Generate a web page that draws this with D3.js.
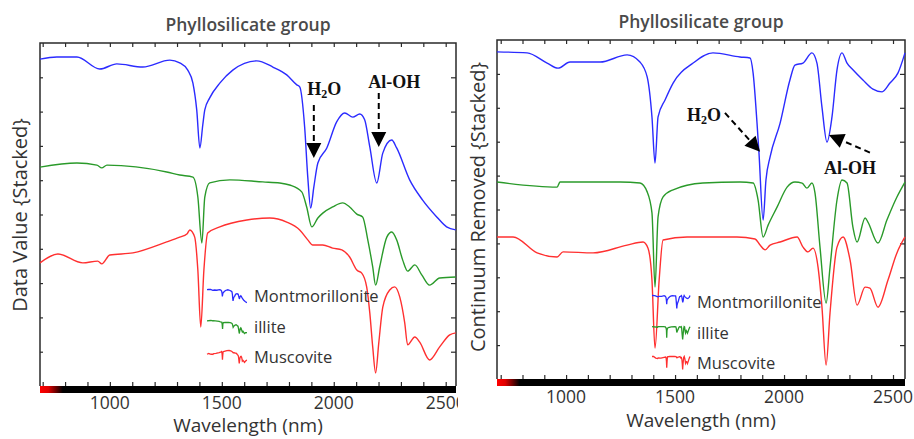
<!DOCTYPE html>
<html>
<head>
<meta charset="utf-8">
<script src="https://cdn.jsdelivr.net/npm/d3@7"></script>
<style>
    body { margin: 0; background: #fff; }
    text { font-family: "Open Sans", sans-serif; }
</style>
</head>
<body>
<div id="chart"></div>
<script>
// spectra, [wavelength nm, stacked value]
const leftMontmorillonite = [
    [688, 9.53], [763, 9.59], [853, 9.59], [955, 9.24], [1031, 9.39], [1147, 9.30], [1268, 9.50],
    [1312, 9.42], [1348, 9.21], [1371, 8.83], [1388, 8.05], [1402, 6.94], [1415, 7.61], [1424, 8.05],
    [1446, 8.40], [1491, 8.83], [1549, 9.21], [1656, 9.48], [1728, 9.30], [1790, 9.07], [1835, 8.78],
    [1848, 8.72], [1870, 7.55], [1884, 6.09], [1897, 5.19], [1911, 5.80], [1929, 6.50], [1969, 6.94],
    [2013, 7.70], [2049, 7.96], [2085, 7.84], [2116, 7.93], [2138, 7.76], [2161, 6.97], [2192, 5.92],
    [2219, 6.79], [2259, 7.17], [2281, 6.94], [2339, 6.01], [2397, 5.42], [2460, 4.93], [2504, 4.64],
    [2545, 4.55]
];
const leftIllite = [
    [688, 6.38], [853, 6.50], [942, 6.44], [964, 6.36], [987, 6.44], [1254, 6.24], [1312, 6.15],
    [1371, 6.09], [1393, 5.51], [1411, 4.17], [1424, 5.51], [1446, 5.92], [1536, 6.01], [1683, 5.95],
    [1759, 5.92], [1803, 5.86], [1857, 5.66], [1879, 5.22], [1902, 4.64], [1929, 4.90], [1951, 5.04],
    [1995, 5.22], [2040, 5.34], [2071, 5.22], [2103, 5.01], [2129, 4.93], [2152, 4.26], [2174, 3.47],
    [2187, 2.94], [2205, 3.47], [2237, 4.34], [2259, 4.49], [2281, 4.26], [2308, 3.67], [2330, 3.35],
    [2362, 3.53], [2393, 3.24], [2428, 2.94], [2473, 3.15], [2545, 3.18]
];
const leftMuscovite = [
    [688, 3.59], [768, 3.85], [879, 3.59], [946, 3.64], [964, 3.56], [1000, 3.82], [1103, 3.88],
    [1254, 4.20], [1312, 4.34], [1344, 4.43], [1357, 4.55], [1379, 4.34], [1393, 3.38], [1406, 1.72],
    [1420, 3.38], [1437, 4.46], [1491, 4.64], [1612, 4.84], [1714, 4.90], [1790, 4.78], [1848, 4.55],
    [1884, 4.26], [1906, 4.11], [1951, 4.11], [1995, 4.02], [2036, 3.97], [2071, 3.76], [2103, 3.38],
    [2125, 3.29], [2147, 2.89], [2161, 2.13], [2174, 1.14], [2187, 0.38], [2201, 1.25], [2219, 2.30],
    [2250, 2.80], [2272, 2.89], [2295, 2.59], [2317, 1.84], [2330, 1.20], [2362, 1.43], [2384, 1.28],
    [2428, 0.76], [2473, 1.14], [2518, 1.49], [2545, 1.55]
];

const rightMontmorillonite = [
    [683, 9.65], [821, 9.62], [913, 9.32], [963, 9.17], [1018, 9.35], [1156, 9.35], [1280, 9.56],
    [1339, 9.35], [1372, 8.91], [1394, 7.73], [1408, 6.37], [1422, 7.73], [1454, 8.23], [1491, 8.73],
    [1583, 9.32], [1674, 9.62], [1798, 9.50], [1844, 9.47], [1858, 9.03], [1876, 7.55], [1885, 6.67],
    [1904, 4.69], [1917, 5.87], [1936, 6.55], [1982, 7.55], [2027, 8.82], [2050, 9.26], [2087, 9.32],
    [2128, 9.62], [2151, 9.32], [2174, 8.02], [2197, 6.99], [2220, 7.73], [2243, 9.12], [2266, 9.62],
    [2289, 9.32], [2316, 9.12], [2362, 8.82], [2408, 8.55], [2450, 8.47], [2486, 8.73], [2523, 9.03],
    [2555, 9.62]
];
const rightIllite = [
    [683, 5.81], [959, 5.66], [972, 5.81], [1248, 5.81], [1339, 5.78], [1372, 5.52], [1394, 4.90],
    [1408, 2.71], [1422, 4.78], [1445, 5.37], [1491, 5.58], [1628, 5.78], [1798, 5.81], [1858, 5.78],
    [1881, 5.28], [1904, 4.19], [1927, 4.54], [1968, 5.07], [2014, 5.66], [2050, 5.81], [2083, 5.78],
    [2105, 5.63], [2128, 5.78], [2142, 5.49], [2165, 3.89], [2193, 2.24], [2211, 3.30], [2243, 5.28],
    [2266, 5.87], [2289, 5.78], [2316, 4.48], [2335, 4.04], [2372, 4.75], [2385, 4.63], [2431, 4.01],
    [2472, 4.69], [2518, 5.37], [2555, 5.81]
];
const rightMuscovite = [
    [683, 4.19], [757, 4.19], [867, 3.72], [959, 3.60], [986, 3.75], [1124, 3.72], [1280, 3.95],
    [1353, 4.04], [1376, 3.86], [1394, 2.92], [1408, 0.91], [1427, 2.92], [1445, 4.10], [1555, 4.19],
    [1784, 4.19], [1867, 4.13], [1890, 3.95], [1913, 3.81], [1936, 3.95], [1982, 4.04], [2060, 4.19],
    [2087, 3.89], [2110, 3.75], [2133, 3.86], [2156, 3.30], [2174, 2.12], [2193, 0.41], [2211, 1.95],
    [2243, 3.89], [2271, 4.19], [2303, 3.51], [2335, 2.18], [2372, 2.71], [2394, 2.68], [2431, 2.12],
    [2477, 2.92], [2518, 3.72], [2555, 4.19]
];

const seriesNames = ["Montmorillonite", "illite", "Muscovite"];
const seriesColors = ["#2b2bff", "#2a9a2a", "#ff3030"];
const majorTicks = [1000, 1500, 2000, 2500];
const minorTicks = [700, 800, 900, 1000, 1100, 1200, 1300, 1400, 1500, 1600, 1700, 1800, 1900, 2000, 2100, 2200, 2300, 2400, 2500];
const yTicks = [1, 2, 3, 4, 5, 6, 7, 8, 9];

const svg = d3.select("#chart").append("svg")
    .attr("width", 914)
    .attr("height", 439);

// red fade on the wavelength bar
let grad = svg.append("defs").append("linearGradient")
    .attr("id", "barGrad")
    .attr("x1", "0%").attr("x2", "100%");
grad.append("stop").attr("offset", "0%").attr("stop-color", "#ff0000");
grad.append("stop").attr("offset", "2%").attr("stop-color", "#e00000");
grad.append("stop").attr("offset", "5.5%").attr("stop-color", "#000");
grad.append("stop").attr("offset", "100%").attr("stop-color", "#000");

const panels = [
    {
        id: "left", clip: [0, 458], left: 40, right: 456, top: 43, bottom: 386,
        domain: [688, 2546], series: [leftMontmorillonite, leftIllite, leftMuscovite],
        title: "Phyllosilicate group", titleY: 31, ylabel: "Data Value {Stacked}", ylabelX: 27, ylabelY: 215,
        tickY: 409, xlabelY: 432,
        legend: { x: 207, w: 40, h: 13, textX: 254, rows: [296, 327, 357] },
        notes: [
            { label: ["H", "2", "O"], tx: 1958, ty: 8.66, from: [1911, 8.19], to: [1911, 6.65] },
            { label: ["Al-OH"], tx: 2270, ty: 8.86, from: [2201, 8.54], to: [2201, 6.97] }
        ]
    },
    {
        id: "right", clip: [460, 914], left: 497, right: 905, top: 40, bottom: 379,
        domain: [683, 2555], series: [rightMontmorillonite, rightIllite, rightMuscovite],
        title: "Phyllosilicate group", titleY: 28, ylabel: "Continuum Removed {Stacked}", ylabelX: 485, ylabelY: 207,
        tickY: 403, xlabelY: 427,
        legend: { x: 652, w: 38, h: 13, textX: 697, rows: [302, 333, 363] },
        notes: [
            { label: ["H", "2", "O"], tx: 1633, ty: 7.79, from: [1729, 7.85], to: [1890, 6.70] },
            { label: ["Al-OH"], tx: 2303, ty: 6.22, from: [2394, 6.68], to: [2206, 7.20] }
        ]
    }
];

panels.forEach(drawPanel);

function drawPanel(p) {
    svg.append("clipPath").attr("id", "clip-" + p.id)
        .append("rect")
        .attr("x", p.clip[0]).attr("y", 0)
        .attr("width", p.clip[1] - p.clip[0]).attr("height", 439);

    let g = svg.append("g").attr("clip-path", "url(#clip-" + p.id + ")");

    let x = d3.scaleLinear().domain(p.domain).range([p.left, p.right]);
    let y = d3.scaleLinear().domain([0, 10]).range([p.bottom, p.top]);

    // wavelength bar
    g.append("rect")
        .attr("x", p.left).attr("y", p.bottom)
        .attr("width", p.right - p.left).attr("height", 7)
        .attr("fill", "url(#barGrad)");

    // frame
    g.append("path")
        .attr("d", `M${p.left},${p.bottom}V${p.top}H${p.right}V${p.bottom}`)
        .attr("fill", "none")
        .attr("stroke", "#2a2a2a")
        .attr("stroke-width", 1.5);

    // ticks, all pointing inward
    let topAxis = d3.axisTop(x).tickValues(minorTicks).tickSize(-4).tickFormat("");
    g.append("g").attr("transform", `translate(0,${p.top})`).call(topAxis)
        .call(a => a.select(".domain").remove());
    let botAxis = d3.axisBottom(x).tickValues(minorTicks).tickSize(-4).tickFormat("");
    g.append("g").attr("transform", `translate(0,${p.bottom})`).call(botAxis)
        .call(a => a.select(".domain").remove());
    let rightAxis = d3.axisRight(y).tickValues(yTicks).tickSize(-5).tickFormat("");
    g.append("g").attr("transform", `translate(${p.right},0)`).call(rightAxis)
        .call(a => a.select(".domain").remove());
    let leftAxis = d3.axisLeft(y).tickValues(yTicks).tickSize(-3).tickFormat("");
    g.append("g").attr("transform", `translate(${p.left},0)`).call(leftAxis)
        .call(a => a.select(".domain").remove());
    g.selectAll(".tick line").attr("stroke", "#2a2a2a").attr("stroke-width", 1.2);

    // tick labels
    g.selectAll(".xlab-" + p.id)
        .data(majorTicks)
        .enter().append("text")
        .attr("x", d => x(d))
        .attr("y", p.tickY)
        .attr("text-anchor", "middle")
        .style("font-size", "17.5px")
        .style("fill", "#333")
        .text(d => d);

    // titles
    g.append("text")
        .attr("x", (p.left + p.right) / 2)
        .attr("y", p.titleY)
        .attr("text-anchor", "middle")
        .style("font-size", "17.5px")
        .style("font-weight", 600)
        .style("fill", "#4a4a4a")
        .text(p.title);
    g.append("text")
        .attr("x", (p.left + p.right) / 2)
        .attr("y", p.xlabelY)
        .attr("text-anchor", "middle")
        .style("font-size", "19px")
        .style("fill", "#333")
        .text("Wavelength (nm)");
    g.append("text")
        .attr("transform", `translate(${p.ylabelX},${p.ylabelY}) rotate(-90)`)
        .attr("text-anchor", "middle")
        .style("font-size", "20px")
        .style("fill", "#333")
        .text(p.ylabel);

    // spectra
    let line = d3.line()
        .x(d => x(d[0]))
        .y(d => y(d[1]))
        .curve(d3.curveMonotoneX);
    p.series.forEach((s, i) => {
        g.append("path")
            .datum(s)
            .attr("d", line)
            .attr("fill", "none")
            .attr("stroke", seriesColors[i])
            .attr("stroke-width", 1.4);
    });

    // legend with tiny copies of each spectrum
    let lx = d3.scaleLinear().domain(p.domain).range([p.legend.x, p.legend.x + p.legend.w]);
    p.series.forEach((s, i) => {
        let cy = p.legend.rows[i];
        let ly = d3.scaleLinear()
            .domain(d3.extent(s, d => d[1]))
            .range([cy + p.legend.h / 2, cy - p.legend.h / 2]);
        g.append("path")
            .datum(s)
            .attr("d", d3.line().x(d => lx(d[0])).y(d => ly(d[1])))
            .attr("fill", "none")
            .attr("stroke", seriesColors[i])
            .attr("stroke-width", 1.3);
        g.append("text")
            .attr("x", p.legend.textX)
            .attr("y", cy)
            .attr("dy", "0.35em")
            .style("font-size", "16.5px")
            .style("fill", "#333")
            .text(seriesNames[i]);
    });

    // annotations
    p.notes.forEach(n => {
        let x0 = x(n.from[0]), y0 = y(n.from[1]);
        let x1 = x(n.to[0]), y1 = y(n.to[1]);
        let len = Math.hypot(x1 - x0, y1 - y0);
        let ux = (x1 - x0) / len, uy = (y1 - y0) / len;
        let headL = 15, headW = 7.5;
        let bx = x1 - ux * headL, by = y1 - uy * headL;
        g.append("line")
            .attr("x1", x0).attr("y1", y0)
            .attr("x2", bx).attr("y2", by)
            .attr("stroke", "#000")
            .attr("stroke-width", 2)
            .attr("stroke-dasharray", "6,4");
        g.append("path")
            .attr("d", `M${x1},${y1}L${bx - uy * headW},${by + ux * headW}L${bx + uy * headW},${by - ux * headW}Z`)
            .attr("fill", "#000");

        let t = g.append("text")
            .attr("x", x(n.tx))
            .attr("y", y(n.ty))
            .attr("dy", "0.35em")
            .attr("text-anchor", "middle")
            .style("font-family", "'Liberation Serif', serif")
            .style("font-weight", "bold")
            .style("font-size", "18px")
            .style("fill", "#111");
        if (n.label.length === 3) {
            t.append("tspan").text(n.label[0]);
            t.append("tspan").attr("dy", 3).style("font-size", "12px").text(n.label[1]);
            t.append("tspan").attr("dy", -3).text(n.label[2]);
        } else {
            t.text(n.label[0]);
        }
    });
}
</script>
</body>
</html>
